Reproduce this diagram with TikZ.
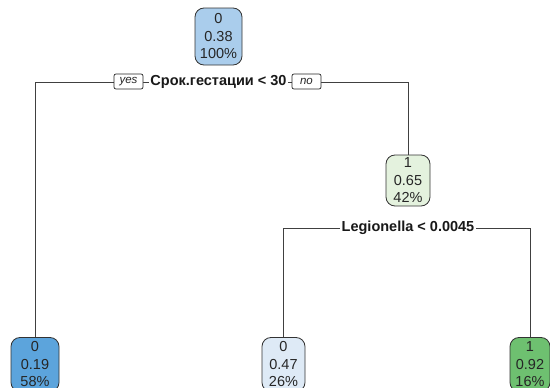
\documentclass[tikz,border=0pt]{standalone}
\usepackage{fontspec}
\setmainfont{Liberation Sans}
\begin{document}
\begin{tikzpicture}[x=1pt,y=-1pt,
  treebox/.style={draw=black!80, line width=0.8pt, rounded corners=9pt,
    align=center, inner sep=0pt, font=\fontsize{14.5}{17.5}\selectfont, text=black!85},
  splitlabel/.style={fill=white, inner sep=1.5pt, font=\bfseries\fontsize{14.5}{16}\selectfont, text=black!90},
  yesno/.style={draw=black!85, line width=0.7pt, fill=white, rounded corners=2pt, inner sep=0pt,
    minimum width=29pt, minimum height=15pt, font=\itshape\fontsize{11.5}{12}\selectfont, text=black!85},
  branch/.style={draw=black!75, line width=0.8pt}]
\useasboundingbox (0,0) rectangle (550,388);
\definecolor{blueA}{RGB}{170,205,236}
\definecolor{blueB}{RGB}{92,164,220}
\definecolor{blueC}{RGB}{222,234,246}
\definecolor{greenA}{RGB}{228,242,222}
\definecolor{greenB}{RGB}{110,192,112}

% nodes of the tree
\node[treebox, fill=blueA, minimum width=47pt, minimum height=57pt] (root) at (218.5,36.5) {0\\0.38\\100\%};
\node[treebox, fill=greenA, minimum width=44pt, minimum height=51pt] (n2) at (408,180.5) {1\\0.65\\42\%};
\node[treebox, fill=blueB, minimum width=48pt, minimum height=54pt] (leafA) at (35,364.5) {0\\0.19\\58\%};
\node[treebox, fill=blueC, minimum width=43pt, minimum height=54pt] (leafB) at (283.5,364.5) {0\\0.47\\26\%};
\node[treebox, fill=greenB, minimum width=40pt, minimum height=54pt] (leafC) at (530,364.5) {1\\0.92\\16\%};

% split positions
\coordinate (s1) at (218.5,82);
\coordinate (s2) at (408,228);

% branches
\draw[branch] (leafA.north) -- (leafA.north |- s1) -- (n2.north |- s1) -- (n2.north);
\draw[branch] (leafB.north) -- (leafB.north |- s2) -- (leafC.north |- s2) -- (leafC.north);

% split labels
\node[splitlabel] (lab1) at (s1) {Срок.гестации < 30};
\node[splitlabel] (lab2) at (s2) {Legionella < 0.0045};
\node[yesno] (yes) at (128.5,81.5) {yes};
\node[yesno] (no) at (306.5,81.5) {no};
\end{tikzpicture}
\end{document}
